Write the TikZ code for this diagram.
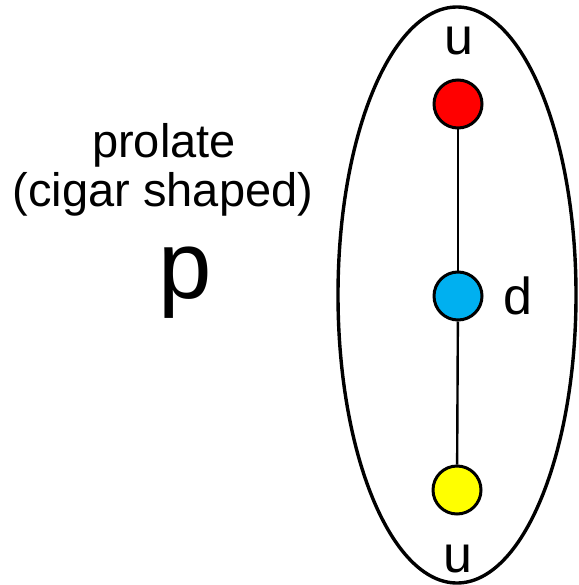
\documentclass[tikz,border=0pt]{standalone}
\usepackage{fontspec}
\setmainfont{Liberation Sans}
\usepackage{tikz}
\definecolor{upink}{RGB}{255, 0, 0}
\definecolor{downink}{RGB}{0, 176, 240}
\definecolor{lowink}{RGB}{255, 255, 0}

\begin{document}
\begin{tikzpicture}[x=1pt, y=-1pt, line width=3.4pt,
    quark/.style={circle, draw, line width=3pt, minimum size=48pt, inner sep=0pt},
    lbl/.style={anchor=base, inner sep=0pt, font=\fontsize{47}{47}\selectfont}]
  \useasboundingbox (0,0) rectangle (578,585);
  \draw (457,295) ellipse (119pt and 288pt);
  \node[quark, fill=upink] (top) at (458,104) {};
  \node[quark, fill=downink] (mid) at (458,296) {};
  \node[quark, fill=lowink] (bot) at (457,490) {};
  \draw[line width=2.4pt] (top) -- (mid);
  \draw[line width=2.4pt] (mid) -- (bot);
  \node[lbl, font=\fontsize{52}{52}\selectfont] (utop) at (459,55) {u};
  \node[lbl, font=\fontsize{52}{52}\selectfont] (ubot) at (458,572) {u};
  \node[lbl, font=\fontsize{52}{52}\selectfont] (dlbl) at (518,314) {d};
  \node[lbl] (prol) at (164,158) {prolate};
  \node[lbl] (cigar) at (163,207) {(cigar shaped)};
  \node[lbl, font=\fontsize{96}{96}\selectfont] (plbl) at (185,298) {p};
\end{tikzpicture}
\end{document}
